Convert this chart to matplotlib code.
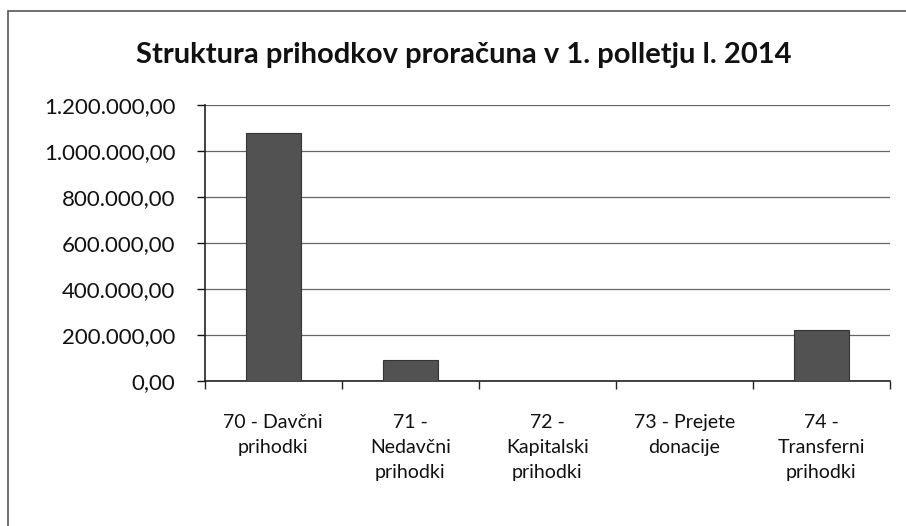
import matplotlib.pyplot as plt
from matplotlib.ticker import FuncFormatter, MultipleLocator, FixedLocator
from matplotlib.patches import Rectangle

plt.rcParams['font.family'] = ['Lato', 'DejaVu Sans']

kategorije = ["70 - Davčni\nprihodki", "71 -\nNedavčni\nprihodki", "72 -\nKapitalski\nprihodki",
              "73 - Prejete\ndonacije", "74 -\nTransferni\nprihodki"]
prihodki = [1078000, 92000, 0, 0, 222000]


def format_si(v, pos):
    s = f"{v:,.2f}"
    return s.replace(",", "X").replace(".", ",").replace("X", ".")


fig = plt.figure(figsize=(9.06, 5.26), dpi=100)
ax = fig.add_axes([0.226, 0.2757, 0.756, 0.525])

x = list(range(len(kategorije)))
ax.bar(x, prihodki, width=0.4, color="#525252", edgecolor="#333333", linewidth=0.8, zorder=3)

ax.set_xlim(-0.5, len(kategorije) - 0.5)
ax.set_ylim(0, 1200000)
ax.yaxis.set_major_locator(MultipleLocator(200000))
ax.yaxis.set_major_formatter(FuncFormatter(format_si))

# oznake kategorij so med tickoma
ax.xaxis.set_major_locator(FixedLocator([i + 0.5 for i in range(-1, len(kategorije))]))
ax.xaxis.set_major_formatter(FuncFormatter(lambda v, p: ""))
ax.xaxis.set_minor_locator(FixedLocator(x))
ax.set_xticklabels(kategorije, minor=True)
ax.tick_params(axis="x", which="minor", length=0, pad=24, labelsize=14, colors="#111111")
ax.tick_params(axis="x", which="major", length=6, width=1, direction="out", color="#222222")
ax.tick_params(axis="y", length=6, width=1, direction="out", labelsize=16, pad=15, colors="#111111")
for lab in ax.get_xticklabels(minor=True):
    lab.set_multialignment("center")
    lab.set_linespacing(1.55)

ax.grid(axis="y", color="#666666", linewidth=0.9, zorder=0)
for s in ["top", "right"]:
    ax.spines[s].set_visible(False)
ax.spines["left"].set_color("#222222")
ax.spines["bottom"].set_color("#222222")
ax.spines["left"].set_linewidth(1.2)
ax.spines["bottom"].set_linewidth(1.2)

fig.text(0.512, 0.895, "Struktura prihodkov proračuna v 1. polletju l. 2014",
         ha="center", va="center", fontsize=21, fontweight="bold", color="#111111")

# okvir grafa (desni in spodnji rob sta izven slike)
fig.patches.append(Rectangle((0.009, -0.02), 1.0, 0.999, transform=fig.transFigure,
                             fill=False, edgecolor="#555555", linewidth=1.2))

plt.savefig("out.png", dpi=100)
plt.close()
